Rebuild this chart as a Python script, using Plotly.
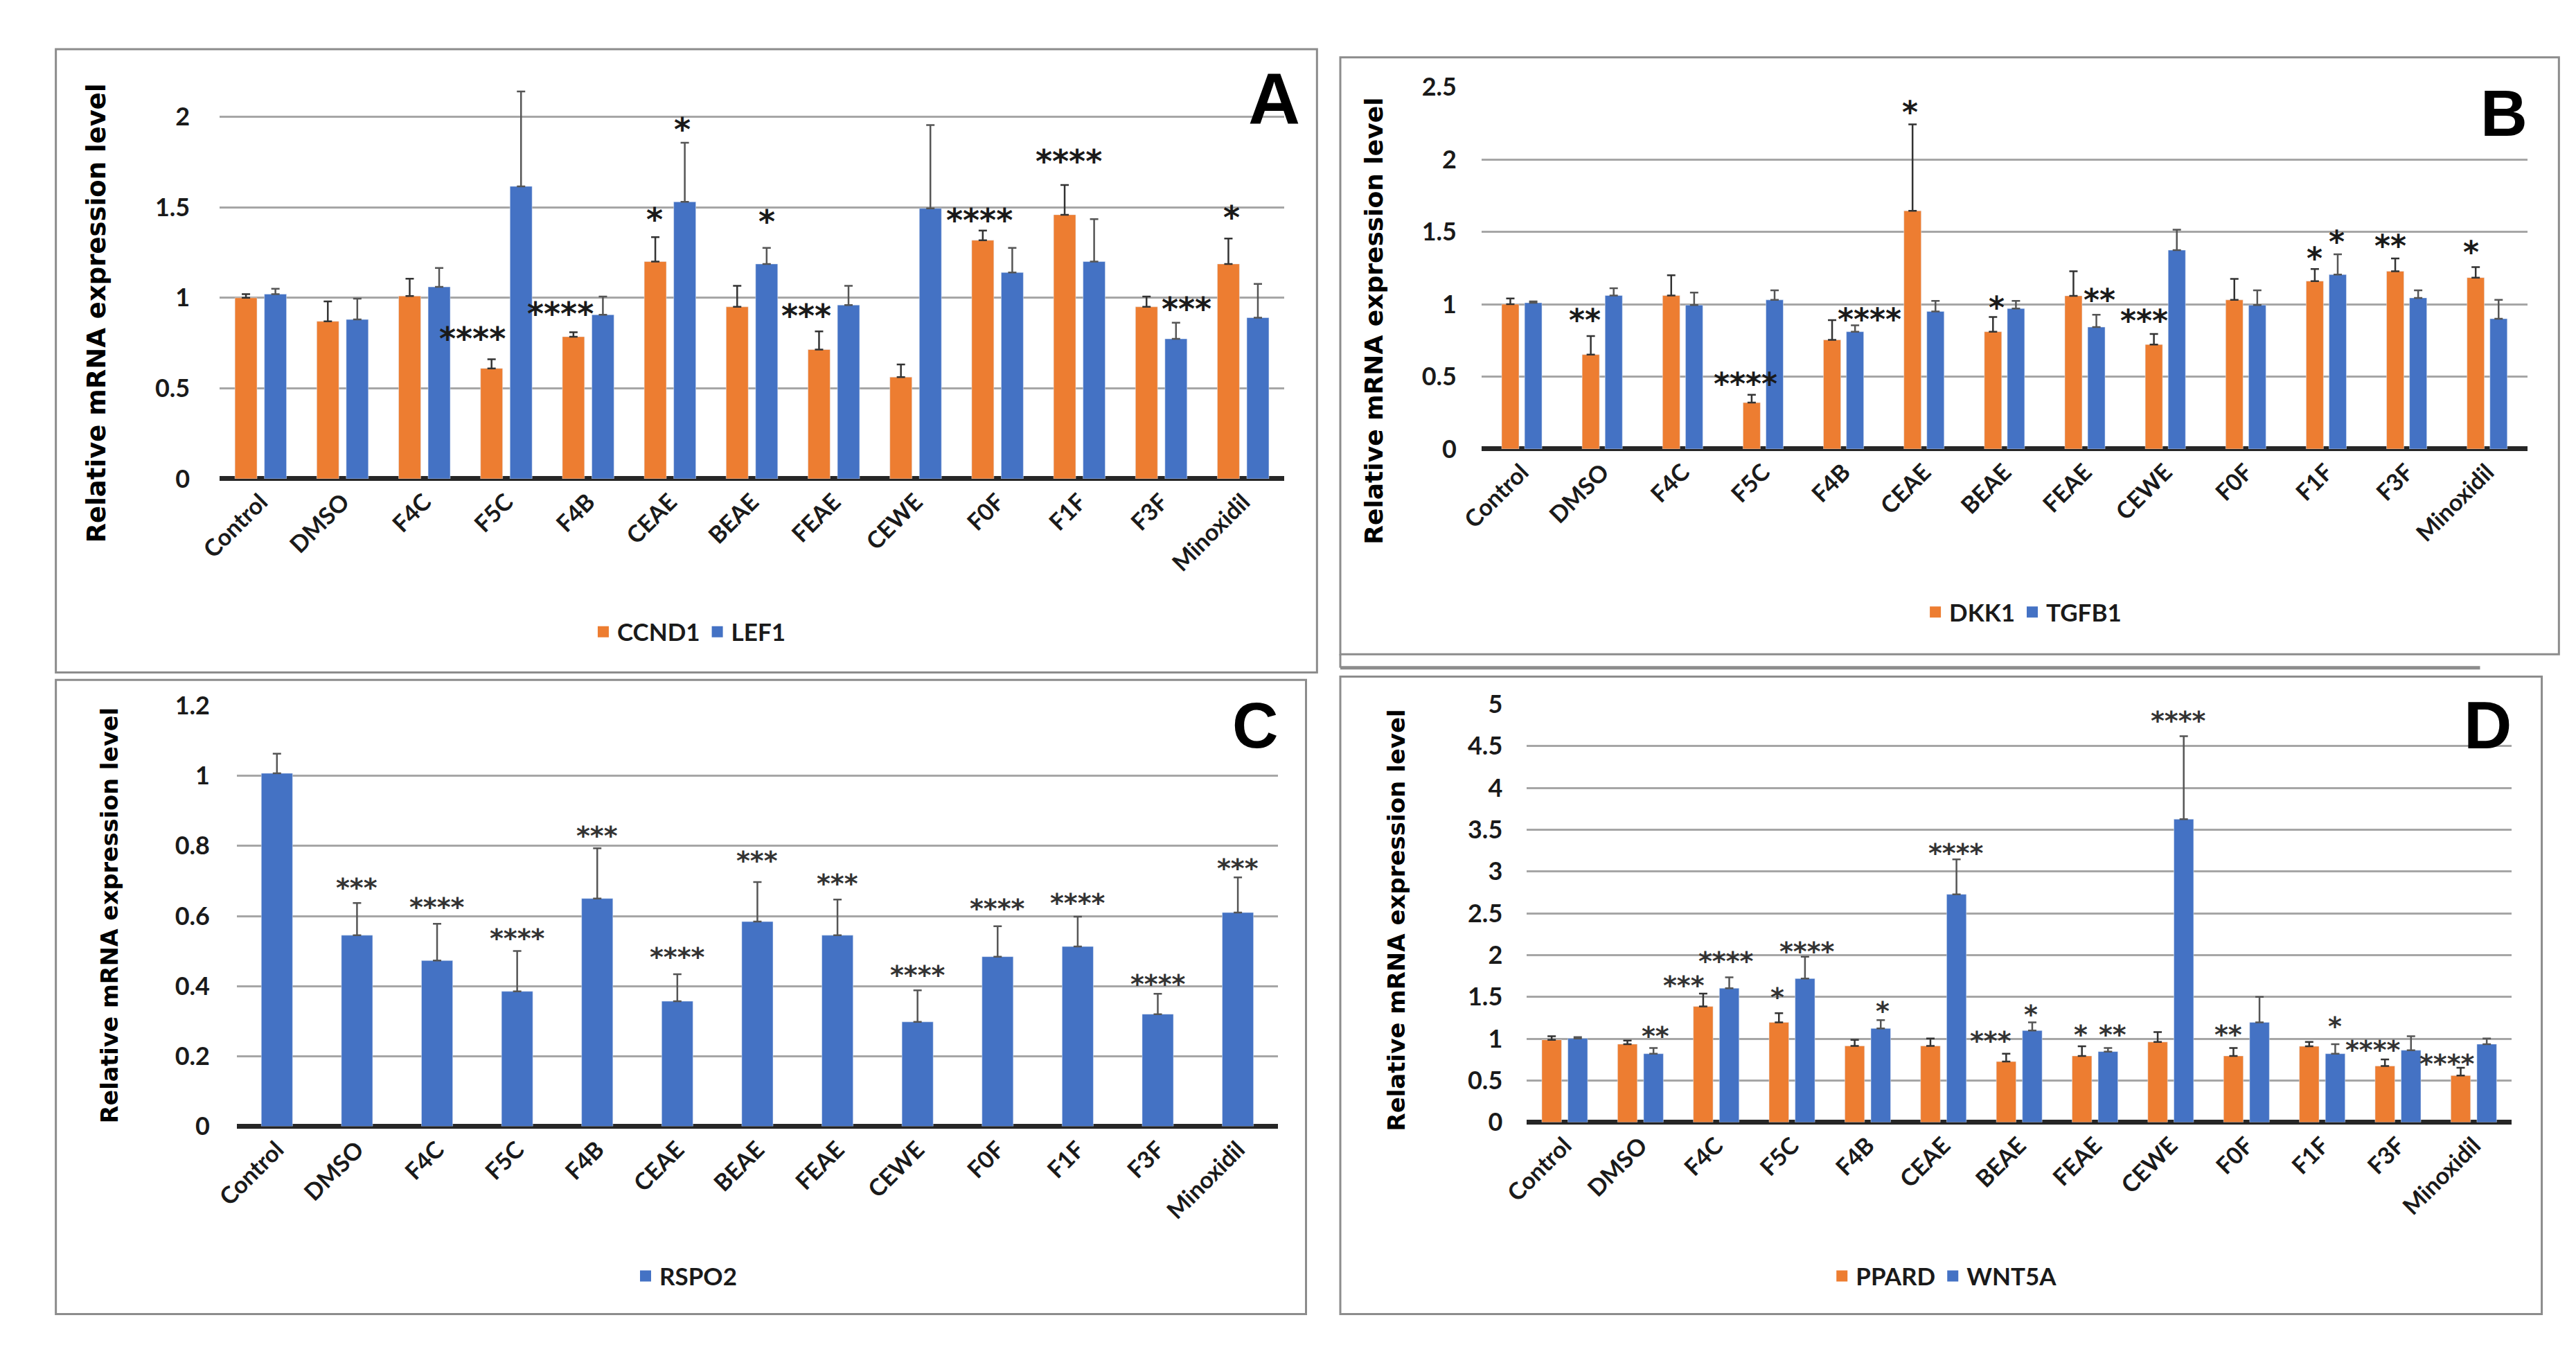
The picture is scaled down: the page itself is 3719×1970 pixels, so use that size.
import plotly.graph_objects as go

W, H = 3719, 1970

cats = ["Control", "DMSO", "F4C", "F5C", "F4B", "CEAE", "BEAE", "FEAE", "CEWE", "F0F", "F1F", "F3F", "Minoxidil"]

# Panel A
ccnd1 = [1.00, 0.87, 1.01, 0.61, 0.785, 1.20, 0.95, 0.714, 0.562, 1.318, 1.459, 0.95, 1.187]
ccnd1_err = [0.02, 0.11, 0.095, 0.05, 0.025, 0.135, 0.116, 0.10, 0.07, 0.054, 0.164, 0.057, 0.141]
lef1 = [1.02, 0.88, 1.06, 1.616, 0.906, 1.53, 1.187, 0.96, 1.494, 1.14, 1.20, 0.773, 0.89]
lef1_err = [0.03, 0.115, 0.105, 0.524, 0.101, 0.327, 0.089, 0.106, 0.461, 0.136, 0.235, 0.089, 0.187]
starsA_idx = [3, 4, 5, 5, 6, 7, 9, 10, 11, 12]
starsA_dx = [-0.41, -0.34, -0.19, 0.15, 0.18, -0.34, -0.22, -0.13, 0.31, -0.14]
starsA_y = [0.81, 0.95, 1.47, 1.967, 1.457, 0.937, 1.468, 1.79, 0.977, 1.48]
starsA_txt = ["****", "****", "*", "*", "*", "***", "****", "****", "***", "*"]

# Panel B
dkk1 = [1.0, 0.652, 1.06, 0.32, 0.754, 1.646, 0.81, 1.058, 0.722, 1.03, 1.16, 1.228, 1.184]
dkk1_err = [0.04, 0.128, 0.14, 0.054, 0.136, 0.597, 0.102, 0.17, 0.073, 0.145, 0.083, 0.088, 0.073]
tgfb1 = [1.01, 1.06, 0.994, 1.03, 0.81, 0.95, 0.97, 0.842, 1.374, 0.994, 1.205, 1.044, 0.90]
tgfb1_err = [0.01, 0.05, 0.086, 0.066, 0.044, 0.073, 0.053, 0.085, 0.141, 0.102, 0.14, 0.052, 0.13]
starsB_idx = [1, 3, 4, 5, 6, 7, 8, 10, 10, 11, 12]
starsB_dx = [-0.22, -0.22, 0.32, -0.17, -0.1, 0.18, -0.26, -0.15, 0.13, -0.2, -0.2]
starsB_y = [0.936, 0.497, 0.94, 2.37, 1.023, 1.073, 0.93, 1.36, 1.477, 1.447, 1.404]
starsB_txt = ["**", "****", "****", "*", "*", "**", "***", "*", "*", "**", "*"]

# Panel C
rspo2 = [1.007, 0.545, 0.473, 0.385, 0.65, 0.357, 0.584, 0.545, 0.298, 0.484, 0.513, 0.32, 0.61]
rspo2_err = [0.056, 0.092, 0.105, 0.115, 0.143, 0.077, 0.113, 0.102, 0.09, 0.087, 0.085, 0.058, 0.10]
starsC_txt = ["", "***", "****", "****", "***", "****", "***", "***", "****", "****", "****", "****", "***"]
starsC_y = [None, 0.696, 0.641, 0.553, 0.845, 0.5, 0.774, 0.708, 0.448, 0.637, 0.654, 0.422, 0.752]

# Panel D
ppard = [0.987, 0.935, 1.385, 1.196, 0.914, 0.914, 0.726, 0.794, 0.961, 0.794, 0.909, 0.674, 0.559]
ppard_err = [0.043, 0.042, 0.155, 0.11, 0.073, 0.089, 0.094, 0.115, 0.119, 0.094, 0.052, 0.078, 0.094]
wnt5a = [1.003, 0.82, 1.604, 1.719, 1.123, 2.727, 1.097, 0.846, 3.626, 1.196, 0.82, 0.862, 0.935]
wnt5a_err = [0.017, 0.068, 0.131, 0.261, 0.1, 0.418, 0.099, 0.042, 0.993, 0.304, 0.115, 0.168, 0.068]
starsD_idx = [1, 2, 2, 3, 3, 4, 5, 6, 6, 7, 7, 8, 9, 10, 11, 12]
starsD_dx = [0.2, -0.43, 0.13, -0.19, 0.2, 0.2, 0.17, -0.38, 0.15, -0.19, 0.23, 0.1, -0.24, 0.17, -0.33, -0.35]
starsD_y = [1.097, 1.708, 1.996, 1.567, 2.11, 1.395, 3.286, 1.045, 1.353, 1.118, 1.118, 4.87, 1.118, 1.212, 0.935, 0.768]
starsD_txt = ["**", "***", "****", "*", "****", "*", "****", "***", "*", "*", "**", "****", "**", "*", "****", "****"]

yticksA = [0, 0.5, 1, 1.5, 2]
yticksB = [0, 0.5, 1, 1.5, 2, 2.5]
yticksC = [0, 0.2, 0.4, 0.6, 0.8, 1, 1.2]
yticksD = [0, 0.5, 1, 1.5, 2, 2.5, 3, 3.5, 4, 4.5, 5]

ORANGE = "#ED7D31"
BLUE = "#4472C4"
TICKF = "Lato, Carlito, Open Sans, sans-serif"
BOLDF = "DejaVu Sans, Verdana, sans-serif"
STARF = "DejaVu Sans, sans-serif"

fig = go.Figure()


def err(arr, color, width):
    return dict(type="data", array=arr, arrayminus=[0] * len(arr), symmetric=False,
                color=color, thickness=2.5, width=width, visible=True)


def legend_key(name, color, xa, ya, leg):
    fig.add_trace(go.Scatter(x=[None], y=[None], mode="markers", name=name, xaxis=xa, yaxis=ya,
                             legend=leg, hoverinfo="skip",
                             marker=dict(symbol="square", size=20, color=color)))


def add_pair(s1, e1, n1, c1, s2, e2, n2, c2, xa, ya, leg, w, gap, capw):
    fig.add_trace(go.Bar(x=cats, y=s1, name=n1, marker_color=c1, width=w, offset=-gap / 2 - w,
                         error_y=err(e1, "#333333", capw), xaxis=xa, yaxis=ya, showlegend=False))
    fig.add_trace(go.Bar(x=cats, y=s2, name=n2, marker_color=c2, width=w, offset=gap / 2,
                         error_y=err(e2, "#555555", capw), xaxis=xa, yaxis=ya, showlegend=False))
    legend_key(n1, c1, xa, ya, leg)
    legend_key(n2, c2, xa, ya, leg)


add_pair(ccnd1, ccnd1_err, "CCND1", ORANGE, lef1, lef1_err, "LEF1", BLUE, "x", "y", "legend", 0.27, 0.09, 6)
add_pair(dkk1, dkk1_err, "DKK1", ORANGE, tgfb1, tgfb1_err, "TGFB1", BLUE, "x2", "y2", "legend2", 0.215, 0.07, 6)
fig.add_trace(go.Bar(x=cats, y=rspo2, name="RSPO2", marker_color=BLUE, width=0.39, offset=-0.195,
                     error_y=err(rspo2_err, "#555555", 6), xaxis="x3", yaxis="y3", showlegend=False))
legend_key("RSPO2", BLUE, "x3", "y3", "legend3")
add_pair(ppard, ppard_err, "PPARD", ORANGE, wnt5a, wnt5a_err, "WNT5A", BLUE, "x4", "y4", "legend4", 0.26, 0.084, 6)


def px_x(p):
    return p / W


def px_y(p):
    return 1 - p / H


def xaxis_cfg(d0, d1, anchor):
    return dict(domain=[px_x(d0), px_x(d1)], anchor=anchor, type="category", range=[-0.5, 12.5],
                tickangle=-45, tickfont=dict(family=TICKF, size=34, color="#1a1a1a", weight="bold"),
                showgrid=False, showline=False, ticks="", zeroline=False, fixedrange=True,
                ticklabelstandoff=6)


def yaxis_cfg(d0, d1, anchor, rng, tv, standoff):
    return dict(domain=[px_y(d1), px_y(d0)], anchor=anchor, range=rng, tickvals=tv,
                ticktext=[f"{v:g}" for v in tv],
                tickfont=dict(family=TICKF, size=36, color="#1a1a1a", weight="bold"),
                showgrid=True, gridcolor="#A6A6A6", gridwidth=3, zeroline=True, zerolinecolor="#262626",
                zerolinewidth=7, showline=False, ticks="", ticklabelstandoff=standoff, fixedrange=True)


layout = dict(
    width=W, height=H, margin=dict(l=0, r=0, t=0, b=0), paper_bgcolor="white", plot_bgcolor="white",
    barmode="overlay", showlegend=True,
    xaxis=xaxis_cfg(275, 1827, "y"), yaxis=yaxis_cfg(74, 675, "x", [0, 2.25], yticksA, 42),
    xaxis2=xaxis_cfg(2115, 3640, "y2"), yaxis2=yaxis_cfg(97, 631, "x2", [0, 2.5], yticksB, 35),
    xaxis3=xaxis_cfg(300, 1818, "y3"), yaxis3=yaxis_cfg(1010, 1631, "x3", [0, 1.2], yticksC, 38),
    xaxis4=xaxis_cfg(2181, 3617, "y4"), yaxis4=yaxis_cfg(1008, 1625, "x4", [0, 5], yticksD, 34),
)
legfont = dict(family=TICKF, size=35, color="#1a1a1a", weight="bold")
for key, cx, cy in [("legend", 960, 901), ("legend2", 2905, 872), ("legend3", 955, 1852), ("legend4", 2790, 1852)]:
    layout[key] = dict(orientation="h", x=px_x(cx), y=px_y(cy), xanchor="center", yanchor="middle",
                       font=legfont, bgcolor="rgba(0,0,0,0)", itemwidth=30, tracegroupgap=0,
                       itemsizing="trace")
fig.update_layout(**layout)

# panel borders
shapes = []
for (x0, y0, x1, y1) in [(36, 41, 1875, 961), (1909, 53, 3686, 934), (36, 972, 1859, 1908), (1909, 967, 3661, 1908)]:
    shapes.append(dict(type="rect", xref="paper", yref="paper", x0=px_x(x0), x1=px_x(x1), y0=px_y(y1), y1=px_y(y0),
                       line=dict(color="#8C8C8C", width=3), fillcolor="rgba(0,0,0,0)", layer="below"))
shapes.append(dict(type="line", xref="paper", yref="paper", x0=px_x(1909), x1=px_x(3571), y0=px_y(954), y1=px_y(954),
                   line=dict(color="#8C8C8C", width=5)))
shapes.append(dict(type="line", xref="paper", yref="paper", x0=px_x(1909), x1=px_x(1909), y0=px_y(954), y1=px_y(934),
                   line=dict(color="#8C8C8C", width=3)))
fig.update_layout(shapes=shapes)

ann = []
# y titles
for cx, cy, fs in [(95, 431, 37), (1958, 442, 36), (115, 1320, 33.5), (1991, 1327, 34)]:
    ann.append(dict(text="Relative mRNA expression level", xref="paper", yref="paper", x=px_x(cx), y=px_y(cy),
                    textangle=-90, showarrow=False, xanchor="center", yanchor="middle",
                    font=dict(family=BOLDF, size=fs, color="black", weight="bold")))
# panel letters
for t, rx, ty, fs in [("A", 1852, 52, 104), ("B", 3642, 80, 94), ("C", 1820, 985, 92), ("D", 3619, 982, 96)]:
    ann.append(dict(text=t, xref="paper", yref="paper", x=px_x(rx), y=px_y(ty), showarrow=False,
                    xanchor="right", yanchor="top",
                    font=dict(family="Liberation Sans, Arial", size=fs, color="black", weight="bold")))


def add_stars(idx, dx, ys, txt, xa, ya, fs, color):
    for i, d, yv, t in zip(idx, dx, ys, txt):
        ann.append(dict(text=t, x=i + d, y=yv, xref=xa, yref=ya, showarrow=False, xanchor="center",
                        yanchor="middle", yshift=-int(fs * 0.22),
                        font=dict(family=STARF, size=fs, color=color, weight="bold")))


add_stars(starsA_idx, starsA_dx, starsA_y, starsA_txt, "x", "y", 46, "#1a1a1a")
add_stars(starsB_idx, starsB_dx, starsB_y, starsB_txt, "x2", "y2", 44, "#1a1a1a")
add_stars([i for i, t in enumerate(starsC_txt) if t], [0] * 12,
          [y for y, t in zip(starsC_y, starsC_txt) if t], [t for t in starsC_txt if t], "x3", "y3", 38, "#333333")
add_stars(starsD_idx, starsD_dx, starsD_y, starsD_txt, "x4", "y4", 38, "#333333")
fig.update_layout(annotations=ann)

fig.write_html("out.html")
